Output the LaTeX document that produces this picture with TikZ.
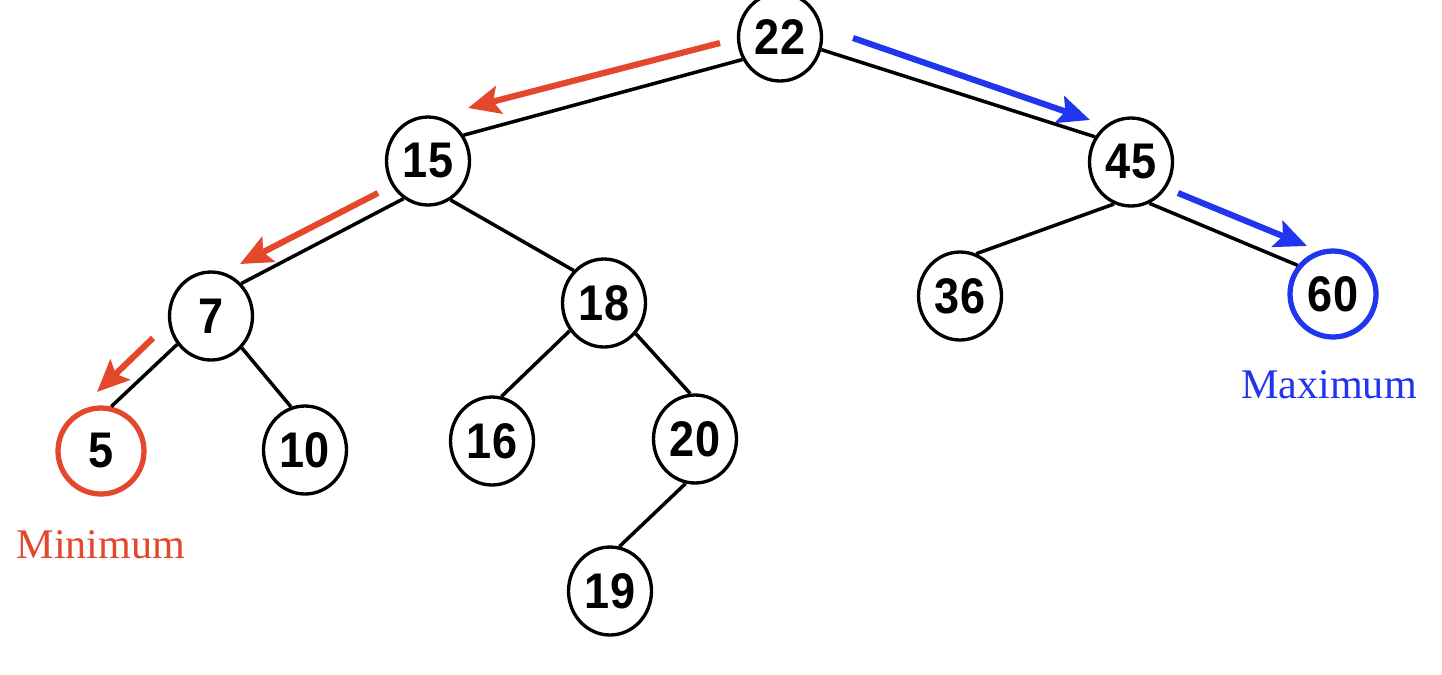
\documentclass[tikz,border=0pt]{standalone}
\usepackage{fontspec}
\setmainfont{Liberation Serif}
\newfontfamily\numfont[FakeStretch=0.9]{Liberation Sans}
\usetikzlibrary{shapes.geometric,arrows.meta}
\definecolor{minred}{HTML}{E4472B}
\definecolor{maxblue}{HTML}{1F35EE}
\begin{document}
\begin{tikzpicture}[x=0.02cm,y=-0.02cm,
  bstnode/.style={ellipse, draw=black, line width=1.9pt, minimum width=1.66cm, minimum height=1.76cm, inner sep=0pt, fill=white, font=\numfont\bfseries\fontsize{28.5}{28.5}\selectfont},
  minnode/.style={bstnode, draw=minred, line width=3pt, minimum width=1.72cm, minimum height=1.72cm},
  maxnode/.style={bstnode, draw=maxblue, line width=3pt, minimum width=1.72cm, minimum height=1.72cm},
  treeedge/.style={draw=black, line width=2pt},
  patharrow/.style={line width=3.5pt, -{Stealth[length=0.64cm, width=0.56cm, inset=0.12cm]}},
  minarrow/.style={patharrow, draw=minred, fill=minred},
  maxarrow/.style={patharrow, draw=maxblue, fill=maxblue},
  lbl/.style={font=\fontsize{24}{24}\selectfont, inner sep=0pt}
]
\useasboundingbox (0,0) rectangle (1442,674);
\clip (0,0) rectangle (1442,674);
\fill[white] (0,0) rectangle (1442,674);

% nodes
\node[bstnode] (n22) at (780,37) {22};
\node[bstnode] (n15) at (428,161) {15};
\node[bstnode] (n45) at (1131,162) {45};
\node[bstnode] (n7)  at (211,316) {7};
\node[bstnode] (n18) at (604,303) {18};
\node[bstnode] (n36) at (960,296) {36};
\node[maxnode] (n60) at (1333,294) {60};
\node[minnode] (n5)  at (101,451) {5};
\node[bstnode] (n10) at (305,450) {10};
\node[bstnode] (n16) at (492,441) {16};
\node[bstnode] (n20) at (695,439) {20};
\node[bstnode] (n19) at (610,591) {19};

% edges
\draw[treeedge] (n22.211) -- (n15.36);
\draw[treeedge] (n22.-17) -- (n45.145);
\draw[treeedge] (n15.237) -- (n7.47);
\draw[treeedge] (n15.-60) -- (n18.133);
\draw[treeedge] (n7.220) -- (n5.77);
\draw[treeedge] (n7.-46) -- (n10.108);
\draw[treeedge] (n18.219) -- (n16.78);
\draw[treeedge] (n18.-44) -- (n20.96);
\draw[treeedge] (n20.258) -- (n19.78);
\draw[treeedge] (n45.248) -- (n36.69);
\draw[treeedge] (n45.-66) -- (n60.141);

% search path arrows
\coordinate (r1a) at (720,43);  \coordinate (r1b) at (468,108);
\coordinate (r2a) at (378,193); \coordinate (r2b) at (240,264);
\coordinate (r3a) at (153,338); \coordinate (r3b) at (97,392);
\coordinate (b1a) at (853,38);  \coordinate (b1b) at (1090,120);
\coordinate (b2a) at (1178,193); \coordinate (b2b) at (1307,246);
\draw[minarrow] (r1a) -- (r1b);
\draw[minarrow] (r2a) -- (r2b);
\draw[minarrow] (r3a) -- (r3b);
\draw[maxarrow] (b1a) -- (b1b);
\draw[maxarrow] (b2a) -- (b2b);

% labels
\node[lbl, text=minred] (minlbl) at (101,545) {Minimum};
\node[lbl, text=maxblue] (maxlbl) at (1329,385) {Maximum};
\end{tikzpicture}
\end{document}
